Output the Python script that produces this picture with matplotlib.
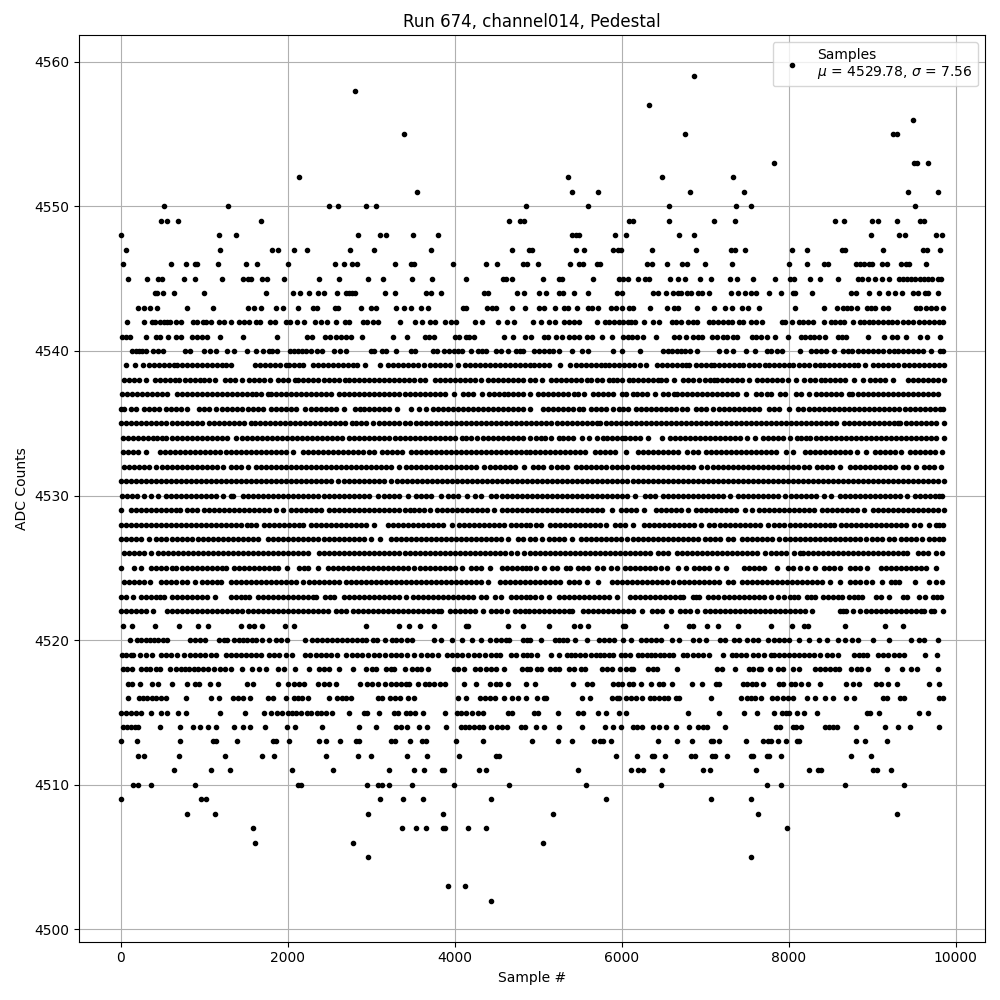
import matplotlib
matplotlib.use("Agg")
import matplotlib.pyplot as plt

# sample numbers, one list per ADC level
adc_4502 = [4441]
adc_4503 = [3926, 4130]
adc_4505 = [2968, 7545]
adc_4506 = [1615, 2789, 5054]
adc_4507 = [1591, 3375, 3543, 3663, 3855, 3887, 4165, 4381, 7976]
adc_4508 = [800, 1136, 2968, 3863, 5174, 7629, 9293]
adc_4509 = [10, 964, 1020, 3112, 3387, 3627, 4441, 5808, 7066, 7545]
adc_4510 = [154, 214, 369, 896, 2130, 2158, 2956, 3088, 3128, 3219, 3495, 3998, 4657, 5569, 6467, 7737, 7904, 8671, 9377]
adc_4511 = [645, 1088, 1315, 2058, 2549, 3219, 3519, 3639, 3843, 3875, 4286, 4370, 5473, 6108, 6192, 6251, 6479, 6970, 7054, 7605,
            8240, 8347, 8387, 9006, 9054, 9222]
adc_4512 = [214, 285, 705, 1255, 1699, 1842, 2465, 2848, 3004, 3435, 3675, 4058, 4501, 4533, 5928, 6180, 6359, 6391, 6515, 6826,
            6882, 7078, 7122, 7257, 7545, 7577, 7737, 7760, 7904, 8743, 8982]
adc_4513 = [10, 202, 717, 1112, 1148, 1399, 1830, 1862, 2022, 2381, 2465, 2633, 2824, 2856, 3243, 3291, 3471, 3615, 3663, 4022,
            4334, 4922, 5234, 5401, 5665, 5737, 5781, 5868, 6431, 6659, 6838, 7066, 7098, 7162, 7485, 7689, 7749, 7788, 7868,
            7964, 8096, 8128, 8802, 8910, 9174]
adc_4514 = [30, 82, 130, 174, 210, 477, 717, 872, 956, 1052, 1140, 1363, 1471, 1555, 1731, 1998, 2094, 2409, 2860, 3064, 3303,
            3355, 3435, 3579, 3675, 3891, 4074, 4122, 4174, 4234, 4286, 4334, 4433, 4513, 4573, 4633, 4793, 4841, 4970, 5066,
            5246, 5521, 5796, 5892, 5996, 6132, 6180, 6243, 6371, 6443, 6527, 6655, 6810, 6910, 6970, 7018, 7241, 7844, 7896,
            8048, 8088, 8144, 8439, 8487, 8535, 8575, 8802, 9150, 9305, 9449, 9796]
adc_4515 = [10, 62, 130, 190, 242, 369, 489, 561, 693, 780, 1196, 1491, 1723, 1802, 1878, 1938, 2006, 2058, 2106, 2166, 2238,
            2277, 2357, 2397, 2457, 2537, 2741, 2916, 2956, 3100, 3279, 3327, 3415, 3467, 3531, 3623, 3879, 4034, 4074, 4134,
            4214, 4274, 4334, 4645, 4693, 4946, 4994, 5234, 5473, 5533, 5721, 5808, 5964, 6048, 6790, 7162, 7461, 7617, 7820,
            7916, 7968, 8008, 8096, 8180, 8335, 8934, 8974, 9078, 9557, 9665]
adc_4516 = [94, 222, 269, 321, 373, 429, 481, 541, 788, 1088, 1184, 1351, 1407, 1467, 1555, 1770, 1830, 1986, 2078, 2130, 2178,
            2249, 2501, 2597, 2657, 2705, 2765, 3088, 3136, 3227, 3287, 3351, 3447, 3515, 4046, 4134, 4298, 4365, 4421, 4481,
            4597, 4685, 4753, 4860, 4982, 5066, 5094, 5521, 5617, 5880, 5940, 5972, 6052, 6112, 6172, 6243, 6339, 6391, 6443,
            6503, 6551, 6651, 6691, 7066, 7425, 7497, 7545, 7597, 7669, 7796, 7856, 7928, 7988, 8048, 8216, 8315, 8431, 8527,
            8683, 8778, 9126, 9174, 9333, 9385, 9796, 9844]
adc_4517 = [94, 142, 238, 381, 445, 621, 800, 892, 940, 1076, 1172, 1519, 1587, 1890, 2010, 2078, 2138, 2202, 2369, 2437, 2497,
            2577, 2872, 2956, 3016, 3088, 3168, 3239, 3295, 3355, 3415, 3455, 3567, 3647, 3695, 3755, 3823, 3883, 4118, 4262,
            4421, 4493, 4545, 4645, 4860, 4958, 5413, 5581, 5641, 5900, 5952, 6000, 6084, 6140, 6227, 6347, 6451, 6491, 6599,
            6838, 6958, 7130, 7170, 7449, 7497, 7561, 7609, 7689, 7888, 7936, 8024, 8080, 8144, 8228, 8375, 8691, 8766, 8846,
            9046, 9106, 9186, 9293, 9677, 9796]
adc_4518 = [30, 82, 142, 250, 301, 349, 421, 469, 597, 669, 721, 772, 820, 880, 932, 988, 1052, 1120, 1188, 1251, 1319, 1451,
            1579, 1663, 1747, 1890, 1962, 2094, 2262, 2377, 2437, 2497, 2621, 2785, 2944, 3008, 3064, 3176, 3235, 3275, 3411,
            3495, 3555, 3595, 3687, 3990, 4046, 4114, 4246, 4302, 4373, 4433, 4493, 4593, 4801, 4865, 4906, 4982, 5038, 5142,
            5206, 5253, 5373, 5425, 5513, 5565, 5764, 5824, 5880, 5980, 6052, 6112, 6140, 6311, 6371, 6423, 6659, 7138, 7202,
            7353, 7521, 7577, 7641, 7669, 7772, 7868, 7928, 8048, 8120, 8319, 8375, 8439, 8495, 8559, 8607, 8743, 8814, 8866,
            8946, 9174, 9353, 9465, 9533, 9784]
adc_4519 = [14, 62, 122, 150, 238, 301, 373, 481, 541, 601, 681, 760, 828, 892, 952, 1012, 1080, 1148, 1267, 1319, 1379, 1439,
            1499, 1559, 1619, 1679, 1778, 1838, 1898, 1978, 2050, 2209, 2265, 2337, 2397, 2457, 2517, 2597, 2697, 2777, 2836,
            2896, 2968, 3036, 3096, 3168, 3239, 3295, 3355, 3435, 3515, 3595, 3675, 3735, 3807, 3914, 3974, 4034, 4094, 4165,
            4234, 4294, 4365, 4433, 4493, 4545, 4673, 4733, 4813, 4865, 4914, 4982, 5154, 5246, 5341, 5393, 5445, 5501, 5565,
            5633, 5693, 5741, 5792, 5852, 5900, 5992, 6044, 6100, 6192, 6243, 6299, 6351, 6403, 6459, 6511, 6571, 6619, 6739,
            6786, 6858, 6910, 6970, 7050, 7210, 7317, 7369, 7429, 7489, 7577, 7629, 7709, 7788, 7828, 7888, 7948, 8008, 8068,
            8128, 8188, 8248, 8307, 8375, 8455, 8519, 8587, 8778, 8838, 8894, 8934, 9066, 9126, 9186, 9265, 9325, 9385, 9637,
            9772]
adc_4520 = [110, 202, 250, 301, 349, 401, 453, 509, 561, 836, 896, 956, 1016, 1180, 1240, 1279, 1359, 1419, 1467, 1519, 1571,
            1627, 1699, 1778, 1858, 1918, 1998, 2209, 2297, 2357, 2417, 2477, 2537, 2597, 2657, 2717, 2777, 2836, 2896, 2944,
            3024, 3076, 3168, 3247, 3295, 3355, 3435, 3487, 3755, 3835, 3974, 4086, 4206, 4314, 4421, 4493, 4553, 4613, 4653,
            4820, 4872, 4902, 5038, 5206, 5253, 5293, 5341, 5437, 5581, 5733, 5792, 5852, 5912, 6012, 6112, 6231, 6291, 6351,
            6411, 6471, 6603, 6683, 6850, 6930, 7010, 7178, 7237, 7349, 7409, 7505, 7577, 7637, 7749, 7828, 7888, 7940, 8008,
            8128, 8240, 8367, 8455, 8587, 8675, 8759, 8826, 9006, 9198, 9465, 9557, 9617, 9784]
adc_4521 = [30, 142, 417, 705, 932, 1052, 1447, 1539, 1599, 1691, 1974, 2074, 2944, 3339, 3459, 3591, 3759, 4134, 4162, 4641,
            4813, 5126, 5425, 5497, 5593, 6012, 6044, 6527, 6802, 6858, 7018, 7150, 7389, 7784, 8036, 8188, 8228, 8671, 9150,
            9365]
adc_4522 = [0, 60, 120, 180, 240, 300, 390, 560, 620, 680, 740, 800, 860, 920, 980, 1040, 1100, 1160, 1220, 1280, 1340, 1400,
            1460, 1520, 1580, 1640, 1700, 1760, 1820, 1880, 1940, 2000, 2060, 2120, 2180, 2240, 2300, 2360, 2420, 2480, 2580,
            2640, 2700, 2780, 2840, 2900, 2960, 3020, 3080, 3140, 3200, 3260, 3320, 3380, 3440, 3500, 3560, 3620, 3680, 3740,
            3800, 3840, 3950, 4010, 4070, 4130, 4190, 4250, 4340, 4430, 4490, 4560, 4630, 4720, 4780, 4840, 4894, 4950, 5010,
            5070, 5130, 5190, 5250, 5310, 5370, 5410, 5540, 5600, 5660, 5720, 5780, 5840, 5900, 5960, 6020, 6080, 6140, 6240,
            6360, 6420, 6480, 6590, 6700, 6760, 6820, 6900, 7000, 7060, 7120, 7180, 7240, 7300, 7360, 7420, 7480, 7540, 7600,
            7660, 7720, 7780, 7840, 7900, 7960, 8020, 8080, 8140, 8200, 8280, 8610, 8650, 8690, 8766, 8860, 8920, 8980, 9040,
            9100, 9160, 9220, 9280, 9340, 9400, 9460, 9520, 9580, 9620, 9705, 9740, 9844]
adc_4523 = [10, 70, 150, 240, 300, 360, 420, 470, 520, 620, 680, 740, 800, 860, 920, 980, 1030, 1135, 1320, 1380, 1440, 1490,
            1540, 1640, 1700, 1760, 1820, 1880, 1940, 2000, 2060, 2120, 2180, 2240, 2300, 2340, 2450, 2505, 2560, 2670, 2730,
            2790, 2850, 2910, 2970, 3030, 3090, 3150, 3210, 3270, 3330, 3420, 3500, 3560, 3620, 3680, 3740, 3800, 3860, 3920,
            3980, 4040, 4100, 4160, 4220, 4310, 4373, 4480, 4550, 4680, 4740, 4800, 4860, 4900, 4960, 5030, 5126, 5250, 5310,
            5370, 5430, 5490, 5550, 5610, 5670, 5730, 5790, 5850, 5950, 6100, 6160, 6220, 6280, 6340, 6400, 6460, 6520, 6580,
            6640, 6700, 6740, 6850, 6890, 6930, 7030, 7090, 7150, 7220, 7290, 7350, 7410, 7470, 7530, 7590, 7650, 7710, 7790,
            7868, 7950, 8010, 8060, 8110, 8220, 8270, 8320, 8410, 8470, 8530, 8590, 8640, 8720, 8780, 8830, 8880, 9040, 9100,
            9198, 9370, 9420, 9565, 9630, 9730, 9780, 9830]
adc_4524 = [40, 100, 160, 220, 280, 350, 480, 540, 600, 660, 740, 800, 890, 970, 1030, 1090, 1150, 1200, 1320, 1380, 1440, 1500,
            1560, 1620, 1680, 1740, 1800, 1860, 1920, 1980, 2040, 2100, 2180, 2260, 2320, 2380, 2440, 2500, 2560, 2620, 2700,
            2760, 2820, 2880, 2940, 3000, 3060, 3120, 3180, 3240, 3300, 3360, 3420, 3480, 3540, 3600, 3660, 3720, 3780, 3840,
            3900, 3960, 4020, 4080, 4140, 4200, 4260, 4320, 4400, 4540, 4600, 4660, 4720, 4780, 4840, 4900, 4960, 5020, 5080,
            5140, 5200, 5260, 5370, 5430, 5490, 5590, 5713, 5885, 5945, 6005, 6065, 6125, 6185, 6245, 6305, 6365, 6425, 6485,
            6545, 6620, 6690, 6750, 6810, 6870, 6930, 6990, 7050, 7110, 7170, 7269, 7329, 7440, 7500, 7560, 7620, 7680, 7740,
            7800, 7860, 7920, 7980, 8040, 8100, 8160, 8220, 8280, 8340, 8400, 8500, 8615, 8740, 8800, 8860, 8920, 9000, 9114,
            9220, 9270, 9320, 9513, 9685, 9770, 9836]
adc_4525 = [0, 160, 240, 370, 430, 490, 550, 610, 660, 730, 790, 850, 910, 970, 1030, 1090, 1150, 1210, 1260, 1360, 1420, 1480,
            1540, 1600, 1660, 1720, 1780, 1840, 1890, 1990, 2140, 2200, 2250, 2360, 2480, 2540, 2600, 2660, 2720, 2780, 2840,
            2900, 2960, 3020, 3080, 3140, 3200, 3260, 3320, 3380, 3440, 3510, 3590, 3640, 3710, 3770, 3830, 3890, 3950, 4010,
            4090, 4200, 4260, 4320, 4420, 4570, 4630, 4690, 4750, 4810, 4860, 4900, 4980, 5066, 5170, 5230, 5330, 5385, 5480,
            5540, 5600, 5700, 5780, 5872, 5940, 6040, 6100, 6160, 6220, 6280, 6340, 6400, 6470, 6540, 6670, 6770, 6870, 6930,
            6990, 7050, 7140, 7249, 7465, 7525, 7585, 7645, 7700, 7856, 7990, 8050, 8140, 8220, 8310, 8420, 8480, 8540, 8610,
            8730, 8790, 8850, 8940, 9110, 9170, 9230, 9290, 9350, 9410, 9470, 9530, 9590, 9650, 9760]
adc_4526 = [40, 100, 160, 220, 280, 360, 450, 510, 570, 630, 690, 750, 810, 870, 930, 990, 1050, 1110, 1170, 1230, 1290, 1350,
            1410, 1470, 1530, 1590, 1650, 1710, 1770, 1830, 1890, 1950, 2010, 2070, 2130, 2190, 2250, 2380, 2440, 2500, 2560,
            2620, 2680, 2740, 2800, 2860, 2920, 2980, 3040, 3100, 3160, 3220, 3280, 3340, 3400, 3460, 3520, 3580, 3640, 3700,
            3760, 3820, 3880, 3940, 4000, 4060, 4120, 4180, 4240, 4300, 4360, 4420, 4480, 4540, 4600, 4670, 4750, 4830, 4900,
            4960, 5020, 5080, 5140, 5200, 5260, 5320, 5380, 5440, 5500, 5560, 5620, 5680, 5740, 5800, 5860, 5920, 5980, 6040,
            6100, 6160, 6220, 6280, 6340, 6430, 6490, 6550, 6660, 6720, 6780, 6840, 6900, 6960, 7020, 7080, 7140, 7200, 7260,
            7320, 7380, 7440, 7500, 7560, 7620, 7720, 7790, 7850, 7910, 7970, 8060, 8130, 8170, 8228, 8295, 8350, 8410, 8470,
            8530, 8590, 8650, 8710, 8770, 8830, 8890, 8950, 9010, 9070, 9130, 9190, 9250, 9310, 9370, 9420, 9550, 9610, 9670,
            9770, 9836]
adc_4527 = [0, 60, 120, 180, 240, 340, 430, 490, 550, 610, 670, 730, 790, 850, 930, 990, 1050, 1110, 1170, 1230, 1290, 1350,
            1410, 1470, 1530, 1590, 1640, 1770, 1830, 1890, 1950, 2010, 2070, 2130, 2190, 2250, 2310, 2370, 2430, 2490, 2550,
            2610, 2670, 2730, 2790, 2850, 2910, 3000, 3110, 3240, 3300, 3360, 3420, 3480, 3540, 3600, 3660, 3720, 3780, 3840,
            3900, 3960, 4020, 4080, 4140, 4200, 4260, 4320, 4380, 4440, 4500, 4560, 4640, 4760, 4820, 4900, 4960, 5050, 5130,
            5190, 5250, 5310, 5400, 5510, 5570, 5630, 5690, 5750, 5810, 5870, 5930, 5990, 6070, 6130, 6190, 6250, 6310, 6370,
            6430, 6490, 6550, 6610, 6670, 6730, 6790, 6850, 6910, 7000, 7060, 7120, 7182, 7269, 7337, 7440, 7500, 7560, 7620,
            7680, 7740, 7800, 7880, 7960, 8020, 8080, 8140, 8200, 8260, 8320, 8380, 8440, 8500, 8560, 8620, 8680, 8740, 8800,
            8860, 8920, 9000, 9060, 9120, 9200, 9260, 9340, 9410, 9470, 9530, 9600, 9680, 9740, 9800, 9850]
adc_4528 = [0, 60, 120, 180, 240, 300, 360, 420, 480, 540, 600, 660, 720, 780, 840, 900, 960, 1020, 1080, 1140, 1200, 1260, 1320,
            1380, 1440, 1510, 1560, 1620, 1720, 1780, 1840, 1900, 1960, 2020, 2080, 2140, 2190, 2280, 2340, 2400, 2460, 2520,
            2580, 2640, 2700, 2760, 2820, 2880, 2940, 3030, 3200, 3260, 3320, 3380, 3440, 3500, 3560, 3620, 3680, 3740, 3800,
            3860, 3970, 4050, 4110, 4170, 4230, 4290, 4350, 4410, 4470, 4530, 4590, 4680, 4740, 4800, 4860, 4900, 4970, 5040,
            5140, 5200, 5260, 5320, 5380, 5440, 5500, 5560, 5620, 5680, 5740, 5810, 5920, 5980, 6040, 6140, 6270, 6330, 6390,
            6450, 6510, 6570, 6630, 6690, 6750, 6810, 6870, 6950, 7050, 7110, 7180, 7240, 7300, 7360, 7420, 7480, 7540, 7600,
            7660, 7750, 7830, 7890, 7950, 8010, 8070, 8130, 8190, 8250, 8310, 8370, 8430, 8490, 8540, 8630, 8690, 8750, 8810,
            8870, 8930, 8990, 9050, 9110, 9170, 9230, 9290, 9350, 9410, 9500, 9570, 9680, 9760, 9805, 9850]
adc_4529 = [0, 120, 180, 240, 300, 360, 420, 480, 540, 600, 660, 710, 790, 850, 910, 1000, 1060, 1120, 1180, 1240, 1300, 1360,
            1420, 1480, 1540, 1600, 1660, 1720, 1780, 1860, 1950, 2040, 2100, 2160, 2220, 2280, 2340, 2400, 2500, 2560, 2620,
            2680, 2740, 2800, 2860, 2920, 2980, 3040, 3100, 3160, 3220, 3280, 3340, 3400, 3460, 3510, 3570, 3630, 3700, 3790,
            3850, 3910, 3970, 4030, 4090, 4150, 4210, 4270, 4330, 4390, 4470, 4570, 4630, 4690, 4750, 4810, 4870, 4930, 4990,
            5050, 5110, 5170, 5230, 5290, 5350, 5410, 5470, 5530, 5590, 5650, 5710, 5770, 5880, 5990, 6050, 6110, 6170, 6270,
            6410, 6470, 6530, 6590, 6650, 6710, 6790, 6890, 6950, 7010, 7070, 7130, 7190, 7250, 7310, 7370, 7480, 7561, 7640,
            7700, 7760, 7820, 7880, 7940, 8000, 8060, 8120, 8180, 8240, 8300, 8400, 8460, 8520, 8580, 8640, 8700, 8760, 8820,
            8900, 9010, 9070, 9130, 9190, 9250, 9310, 9370, 9430, 9490, 9550, 9610, 9670, 9730, 9790, 9856]
adc_4530 = [20, 80, 140, 200, 280, 360, 450, 540, 600, 660, 720, 780, 840, 900, 960, 1020, 1080, 1140, 1230, 1320, 1350, 1470,
            1530, 1590, 1650, 1710, 1770, 1830, 1890, 1950, 2010, 2070, 2130, 2190, 2250, 2310, 2370, 2430, 2490, 2550, 2610,
            2670, 2730, 2790, 2850, 2910, 2970, 3080, 3150, 3210, 3270, 3330, 3440, 3540, 3600, 3660, 3720, 3840, 3920, 3980,
            4040, 4150, 4240, 4310, 4430, 4500, 4570, 4630, 4690, 4750, 4810, 4870, 4930, 4990, 5050, 5110, 5170, 5230, 5290,
            5350, 5410, 5470, 5530, 5590, 5650, 5710, 5770, 5830, 5890, 5950, 6010, 6070, 6160, 6280, 6340, 6400, 6490, 6550,
            6610, 6670, 6730, 6790, 6850, 6910, 6970, 7030, 7090, 7150, 7210, 7300, 7390, 7450, 7510, 7570, 7630, 7690, 7750,
            7810, 7870, 7960, 8030, 8090, 8150, 8210, 8270, 8330, 8420, 8507, 8610, 8670, 8730, 8790, 8850, 8910, 8970, 9030,
            9090, 9150, 9210, 9270, 9330, 9420, 9510, 9570, 9630, 9690, 9750, 9800, 9840]
adc_4531 = [0, 60, 120, 180, 240, 300, 360, 420, 480, 540, 600, 660, 720, 780, 840, 900, 960, 1020, 1080, 1140, 1200, 1260, 1320,
            1380, 1440, 1500, 1560, 1620, 1680, 1740, 1800, 1860, 1920, 1980, 2040, 2100, 2160, 2220, 2280, 2340, 2400, 2460,
            2520, 2600, 2680, 2740, 2800, 2860, 2920, 2980, 3040, 3100, 3160, 3240, 3310, 3370, 3430, 3490, 3550, 3610, 3670,
            3730, 3790, 3850, 3910, 3970, 4030, 4090, 4150, 4210, 4270, 4330, 4390, 4450, 4510, 4570, 4630, 4690, 4750, 4810,
            4870, 4930, 4990, 5050, 5110, 5170, 5230, 5290, 5350, 5410, 5470, 5530, 5590, 5650, 5710, 5770, 5830, 5890, 5950,
            6010, 6070, 6130, 6190, 6250, 6310, 6370, 6430, 6490, 6550, 6610, 6670, 6730, 6790, 6850, 6910, 6970, 7030, 7090,
            7150, 7210, 7270, 7330, 7390, 7450, 7510, 7570, 7630, 7690, 7750, 7810, 7870, 7930, 7990, 8050, 8110, 8170, 8230,
            8290, 8350, 8410, 8470, 8530, 8590, 8650, 8710, 8770, 8830, 8890, 8950, 9010, 9070, 9130, 9190, 9250, 9310, 9370,
            9430, 9490, 9550, 9610, 9670, 9730, 9790, 9858]
adc_4532 = [40, 100, 160, 220, 280, 340, 420, 500, 560, 620, 680, 740, 800, 860, 920, 980, 1040, 1100, 1160, 1230, 1320, 1380,
            1440, 1530, 1620, 1680, 1740, 1800, 1860, 1920, 1980, 2040, 2100, 2160, 2220, 2280, 2340, 2400, 2460, 2520, 2580,
            2640, 2700, 2760, 2820, 2880, 2940, 3000, 3060, 3120, 3180, 3240, 3340, 3420, 3480, 3540, 3600, 3660, 3720, 3780,
            3840, 3900, 3960, 4020, 4080, 4140, 4200, 4260, 4350, 4420, 4480, 4540, 4600, 4660, 4720, 4830, 4940, 5000, 5060,
            5150, 5230, 5285, 5340, 5450, 5510, 5570, 5630, 5690, 5750, 5810, 5890, 5950, 6010, 6070, 6130, 6190, 6250, 6310,
            6370, 6430, 6490, 6550, 6610, 6670, 6730, 6790, 6850, 6950, 7022, 7095, 7155, 7215, 7275, 7335, 7395, 7455, 7515,
            7575, 7635, 7695, 7755, 7815, 7875, 7935, 7995, 8055, 8115, 8180, 8248, 8340, 8400, 8460, 8520, 8620, 8730, 8790,
            8850, 8910, 8970, 9030, 9090, 9150, 9210, 9270, 9370, 9430, 9530, 9620, 9680, 9740, 9830]
adc_4533 = [25, 85, 145, 205, 300, 470, 530, 590, 650, 710, 770, 830, 890, 950, 1010, 1070, 1130, 1190, 1260, 1320, 1380, 1440,
            1500, 1560, 1620, 1680, 1740, 1800, 1860, 1920, 1980, 2070, 2180, 2240, 2300, 2360, 2420, 2480, 2540, 2600, 2660,
            2720, 2780, 2840, 2900, 2970, 3030, 3130, 3190, 3250, 3310, 3370, 3480, 3535, 3600, 3660, 3720, 3780, 3840, 3900,
            3960, 4020, 4080, 4140, 4200, 4260, 4320, 4380, 4440, 4500, 4560, 4620, 4680, 4740, 4800, 4860, 4900, 4960, 5020,
            5080, 5140, 5200, 5260, 5320, 5380, 5440, 5500, 5560, 5680, 5740, 5800, 5860, 5920, 6050, 6200, 6260, 6320, 6380,
            6440, 6500, 6560, 6620, 6680, 6780, 6858, 6910, 7010, 7070, 7130, 7190, 7250, 7310, 7370, 7430, 7490, 7550, 7610,
            7670, 7730, 7790, 7850, 7965, 8048, 8190, 8250, 8310, 8370, 8430, 8490, 8550, 8610, 8670, 8730, 8820, 8926, 9030,
            9090, 9150, 9210, 9270, 9345, 9449, 9510, 9570, 9630, 9690, 9750, 9840]
adc_4534 = [30, 90, 150, 210, 270, 330, 390, 440, 500, 550, 610, 670, 730, 790, 850, 910, 980, 1030, 1090, 1150, 1210, 1270, 1380,
            1450, 1510, 1570, 1630, 1690, 1750, 1810, 1870, 1930, 1990, 2050, 2110, 2170, 2230, 2290, 2350, 2410, 2470, 2530,
            2590, 2650, 2740, 2790, 2850, 2910, 2970, 3030, 3090, 3150, 3210, 3290, 3350, 3400, 3460, 3520, 3580, 3640, 3700,
            3760, 3820, 3880, 3940, 4000, 4090, 4140, 4200, 4270, 4340, 4400, 4460, 4520, 4580, 4640, 4700, 4760, 4820, 4900,
            4970, 5030, 5085, 5154, 5250, 5300, 5360, 5420, 5520, 5613, 5710, 5772, 5830, 5890, 5950, 6010, 6040, 6100, 6160,
            6220, 6310, 6479, 6575, 6635, 6695, 6755, 6815, 6875, 6935, 6995, 7055, 7115, 7175, 7235, 7295, 7355, 7415, 7500,
            7593, 7689, 7750, 7810, 7870, 7930, 8020, 8096, 8148, 8205, 8260, 8327, 8390, 8450, 8510, 8570, 8630, 8690, 8750,
            8810, 8870, 8930, 8990, 9050, 9110, 9170, 9230, 9290, 9350, 9410, 9470, 9530, 9590, 9650, 9710, 9770, 9856]
adc_4535 = [10, 70, 130, 190, 250, 310, 370, 430, 490, 550, 610, 670, 730, 790, 850, 910, 970, 1060, 1120, 1180, 1240, 1300, 1360,
            1420, 1480, 1560, 1610, 1670, 1730, 1790, 1850, 1910, 1970, 2030, 2090, 2150, 2210, 2270, 2330, 2390, 2450, 2510,
            2570, 2630, 2690, 2770, 2820, 2880, 2940, 3020, 3100, 3160, 3220, 3280, 3340, 3400, 3460, 3540, 3600, 3660, 3720,
            3780, 3840, 3900, 3960, 4020, 4080, 4140, 4200, 4260, 4320, 4380, 4440, 4500, 4560, 4620, 4680, 4740, 4800, 4860,
            4920, 4980, 5040, 5100, 5160, 5220, 5280, 5340, 5400, 5460, 5520, 5580, 5640, 5710, 5745, 5812, 5870, 5930, 5990,
            6050, 6110, 6170, 6230, 6290, 6350, 6410, 6470, 6530, 6590, 6650, 6710, 6770, 6830, 6890, 6950, 7010, 7070, 7130,
            7190, 7250, 7310, 7370, 7430, 7490, 7550, 7610, 7670, 7730, 7790, 7850, 7910, 7970, 8030, 8090, 8150, 8210, 8270,
            8330, 8390, 8450, 8510, 8570, 8667, 8719, 8780, 8840, 8900, 8960, 9020, 9080, 9140, 9200, 9260, 9305, 9333, 9400,
            9460, 9520, 9580, 9640, 9700, 9760, 9856]
adc_4536 = [0, 40, 120, 180, 282, 340, 400, 460, 540, 600, 660, 720, 790, 940, 1000, 1060, 1140, 1220, 1280, 1340, 1400, 1460,
            1520, 1580, 1640, 1700, 1800, 1860, 1920, 1980, 2040, 2100, 2210, 2280, 2340, 2400, 2460, 2520, 2580, 2680, 2810,
            2870, 2920, 2980, 3040, 3100, 3160, 3220, 3310, 3480, 3570, 3660, 3740, 3800, 3860, 3920, 3980, 4040, 4100, 4160,
            4220, 4280, 4340, 4400, 4460, 4520, 4580, 4640, 4700, 4760, 4820, 4900, 5062, 5120, 5180, 5240, 5300, 5360, 5413,
            5493, 5541, 5633, 5690, 5750, 5810, 5892, 5964, 6020, 6080, 6172, 6232, 6290, 6350, 6410, 6470, 6530, 6590, 6650,
            6723, 6782, 6890, 6950, 7010, 7098, 7170, 7230, 7290, 7350, 7410, 7470, 7530, 7590, 7649, 7761, 7820, 7880, 8000,
            8108, 8168, 8247, 8307, 8367, 8427, 8487, 8547, 8607, 8667, 8727, 8787, 8847, 8907, 8967, 9027, 9087, 9147, 9207,
            9267, 9327, 9387, 9447, 9507, 9567, 9627, 9687, 9747, 9807, 9844]
adc_4537 = [20, 80, 140, 200, 260, 320, 380, 440, 500, 560, 670, 730, 790, 850, 910, 970, 1030, 1090, 1150, 1210, 1270, 1330,
            1390, 1450, 1510, 1570, 1620, 1680, 1770, 1800, 1860, 1920, 1980, 2040, 2100, 2160, 2220, 2280, 2340, 2400, 2460,
            2520, 2620, 2680, 2740, 2800, 2860, 2920, 2980, 3040, 3100, 3160, 3220, 3280, 3340, 3400, 3460, 3520, 3580, 3640,
            3700, 3760, 3820, 3880, 3990, 4100, 4160, 4220, 4330, 4410, 4470, 4530, 4590, 4640, 4700, 4760, 4820, 4900, 5000,
            5060, 5120, 5180, 5240, 5300, 5360, 5430, 5473, 5553, 5660, 5720, 5780, 5840, 5900, 6010, 6052, 6132, 6180, 6240,
            6300, 6403, 6491, 6550, 6631, 6659, 6720, 6780, 6840, 6900, 6960, 7020, 7080, 7140, 7200, 7260, 7320, 7380, 7490,
            7610, 7670, 7737, 7788, 7896, 7960, 8088, 8150, 8247, 8327, 8387, 8447, 8507, 8567, 8627, 8726, 8758, 8826, 8886,
            8946, 9006, 9066, 9126, 9186, 9246, 9306, 9366, 9426, 9486, 9546, 9606, 9666, 9726, 9785]
adc_4538 = [40, 100, 160, 220, 302, 410, 470, 530, 590, 650, 705, 770, 830, 890, 950, 1000, 1060, 1130, 1250, 1310, 1370, 1450,
            1540, 1600, 1660, 1720, 1790, 1890, 1950, 2010, 2090, 2130, 2190, 2250, 2310, 2370, 2430, 2490, 2550, 2610, 2690,
            2730, 2790, 2850, 2910, 2970, 3030, 3090, 3150, 3210, 3270, 3330, 3390, 3450, 3510, 3580, 3650, 3770, 3830, 3890,
            3950, 4010, 4070, 4130, 4190, 4250, 4320, 4400, 4460, 4520, 4580, 4640, 4700, 4760, 4820, 4900, 4960, 5050, 5155,
            5215, 5275, 5335, 5395, 5455, 5515, 5590, 5633, 5700, 5760, 5852, 5892, 5950, 6010, 6092, 6132, 6190, 6250, 6310,
            6370, 6431, 6471, 6530, 6631, 6730, 6790, 6850, 6930, 7000, 7060, 7110, 7138, 7200, 7260, 7320, 7380, 7440, 7530,
            7625, 7685, 7745, 7805, 7865, 7925, 7988, 8088, 8188, 8250, 8310, 8387, 8439, 8500, 8560, 8620, 8680, 8786, 8886,
            8974, 9034, 9094, 9154, 9245, 9425, 9485, 9545, 9605, 9665, 9725, 9785, 9856]
adc_4539 = [62, 170, 274, 335, 395, 455, 515, 575, 635, 681, 733, 790, 850, 910, 970, 1030, 1093, 1149, 1210, 1265, 1320, 1606,
            1665, 1725, 1785, 1845, 1905, 1980, 2022, 2082, 2135, 2190, 2301, 2360, 2420, 2480, 2540, 2600, 2660, 2720, 2780,
            2829, 2932, 3108, 3200, 3260, 3320, 3380, 3440, 3500, 3560, 3637, 3711, 3770, 3830, 3890, 3950, 4038, 4126, 4185,
            4245, 4305, 4365, 4425, 4485, 4545, 4605, 4665, 4725, 4785, 4845, 4900, 4950, 5010, 5070, 5126, 5265, 5385, 5453,
            5510, 5570, 5630, 5690, 5750, 5800, 5852, 5912, 5970, 6030, 6090, 6152, 6220, 6291, 6419, 6480, 6540, 6600, 6660,
            6720, 6770, 6810, 6890, 6950, 7010, 7070, 7110, 7170, 7230, 7290, 7350, 7410, 7453, 7525, 7585, 7645, 7713, 7765,
            7825, 7885, 7945, 8005, 8052, 8120, 8188, 8248, 8310, 8371, 8419, 8480, 8540, 8600, 8660, 8720, 8780, 8826, 8910,
            9006, 9066, 9126, 9186, 9246, 9306, 9385, 9445, 9505, 9565, 9625, 9685, 9745, 9805, 9856]
adc_4540 = [142, 182, 222, 262, 301, 393, 453, 509, 772, 828, 1004, 1068, 1140, 1279, 1359, 1511, 1627, 1711, 1778, 1818, 1878,
            2026, 2078, 2126, 2170, 2218, 2285, 2357, 2409, 2557, 2629, 2705, 2996, 3036, 3136, 3184, 3303, 3475, 3527, 3743,
            3795, 3875, 3927, 3994, 4046, 4094, 4202, 4274, 4322, 4373, 4493, 4553, 4645, 4733, 4781, 4820, 4954, 5014, 5066,
            5126, 5174, 5246, 5401, 5521, 5593, 5892, 6000, 6216, 6499, 6551, 6603, 6659, 6711, 6755, 6814, 6898, 7170, 7249,
            7329, 7485, 7593, 7737, 7788, 7856, 7916, 8132, 8267, 8327, 8387, 8447, 8547, 8647, 8707, 8759, 8826, 8886, 8946,
            9006, 9066, 9126, 9198, 9265, 9305, 9365, 9425, 9485, 9545, 9605, 9705, 9812, 9852]
adc_4541 = [22, 62, 110, 309, 421, 477, 569, 669, 729, 860, 920, 980, 1040, 1196, 1471, 1878, 2238, 2297, 2453, 2513, 2585, 2645,
            2705, 2765, 2896, 3267, 3435, 3651, 3699, 3759, 4010, 4058, 4134, 4178, 4238, 4597, 4705, 4848, 4914, 5066, 5114,
            5214, 5281, 5365, 5433, 5493, 5581, 5645, 5760, 5880, 6020, 6072, 6124, 6180, 6251, 6415, 6623, 6691, 6770, 6850,
            6910, 6962, 7082, 7138, 7217, 7257, 7329, 7377, 7561, 7609, 7669, 7737, 7832, 7988, 8148, 8200, 8256, 8307, 8367,
            8439, 8587, 8639, 8687, 8946, 9138, 9238, 9293, 9405, 9573, 9653, 9812]
adc_4542 = [82, 285, 381, 413, 477, 525, 561, 597, 669, 729, 872, 920, 992, 1028, 1088, 1184, 1240, 1327, 1423, 1483, 1543, 1627,
            1675, 1795, 1854, 1986, 2034, 2118, 2202, 2333, 2405, 2477, 2585, 2693, 2741, 2908, 2956, 3028, 3088, 3351, 3531,
            3615, 3711, 3771, 3879, 3951, 4022, 4250, 4322, 4525, 4633, 4717, 4942, 5034, 5134, 5206, 5305, 5373, 5433, 5493,
            5701, 5796, 5852, 5912, 5964, 6020, 6072, 6112, 6164, 6263, 6379, 6451, 6599, 6651, 6711, 6790, 6850, 6902, 7042,
            7098, 7150, 7210, 7269, 7321, 7401, 7457, 7553, 7609, 7677, 7916, 7960, 8044, 8120, 8168, 8228, 8295, 8419, 8507,
            8559, 8615, 8667, 8766, 8854, 8906, 8958, 9014, 9066, 9126, 9186, 9238, 9293, 9365, 9425, 9485, 9565, 9625, 9685,
            9745, 9796, 9844]
adc_4543 = [214, 285, 357, 441, 800, 1112, 1531, 1603, 1687, 1866, 1950, 2130, 2309, 2353, 2573, 2609, 2884, 3004, 3064, 3303,
            3399, 3483, 3603, 3687, 4098, 4134, 4393, 4453, 4501, 4693, 4848, 5006, 5066, 5198, 5305, 5361, 5461, 5593, 5645,
            5721, 5876, 5932, 6000, 6092, 6140, 6335, 6539, 6623, 6671, 6898, 7102, 7233, 7317, 7437, 7509, 7641, 8072, 8419,
            8575, 8647, 8695, 8747, 8814, 8934, 8986, 9030, 9134, 9186, 9525, 9573, 9645, 9705, 9765, 9844]
adc_4544 = [413, 441, 513, 645, 1004, 1747, 2070, 2154, 2262, 2369, 2441, 2597, 2705, 2741, 2777, 2809, 3172, 3291, 3663, 3723,
            3831, 4357, 4405, 4741, 4836, 5006, 5094, 5246, 5293, 5425, 5593, 5940, 6004, 6371, 6431, 6527, 6611, 6671, 6711,
            6778, 6830, 6910, 6958, 7042, 7305, 7389, 7473, 7553, 7609, 7760, 7904, 8048, 8080, 8275, 8751, 8806, 8958, 9086,
            9186, 9273, 9353, 9485, 9545, 9633, 9673, 9792]
adc_4545 = [94, 321, 453, 493, 764, 896, 1220, 1471, 1531, 1563, 1699, 1751, 1962, 2381, 2621, 2968, 3148, 3495, 3735, 4142, 4585,
            4621, 4693, 5054, 5246, 5281, 5653, 5964, 6020, 6076, 6192, 6275, 6331, 6575, 6671, 6755, 6934, 7066, 7297, 7377,
            7569, 7832, 8012, 8068, 8252, 8371, 8587, 8826, 8878, 8946, 9030, 9114, 9198, 9317, 9365, 9413, 9465, 9517, 9573,
            9625, 9673, 9717, 9788, 9828]
adc_4546 = [34, 609, 788, 888, 920, 1172, 1507, 1639, 2010, 2573, 2681, 2773, 2836, 3291, 3483, 3515, 3986, 4381, 4513, 4820, 4872,
            4994, 5377, 5485, 5533, 5701, 5745, 6299, 6359, 6539, 6719, 6782, 6994, 7317, 8000, 8216, 8419, 8471, 8802, 8850,
            8906, 8966, 8998, 9114, 9174, 9345, 9405, 9445, 9641]
adc_4547 = [70, 1196, 1818, 1890, 2082, 2238, 2753, 3040, 3723, 4693, 4885, 4926, 5449, 5545, 5900, 5952, 5992, 6359, 6886, 7305,
            7353, 7473, 8036, 8216, 8635, 8679, 9126, 9605, 9653, 9808]
adc_4548 = [0, 1184, 1387, 2848, 3112, 3184, 3507, 3807, 5409, 5453, 5485, 5916, 6048, 6683, 6862, 8982, 9317, 9389, 9768, 9840]
adc_4549 = [489, 553, 693, 1687, 4657, 4785, 4833, 6092, 6132, 6563, 7102, 7353, 8551, 8659, 8994, 9066, 9293, 9577, 9625]
adc_4550 = [525, 1291, 2501, 2609, 2944, 3064, 4860, 5593, 6563, 7365, 7545, 9509]
adc_4551 = [3555, 5401, 5713, 6814, 7461, 9425, 9784]
adc_4552 = [2142, 5353, 6479, 7329]
adc_4553 = [7820, 9501, 9533, 9665]
adc_4555 = [3399, 6755, 9253, 9301]
adc_4556 = [9485]
adc_4557 = [6323]
adc_4558 = [2812]
adc_4559 = [6862]

rows = [
    (4502, adc_4502), (4503, adc_4503), (4505, adc_4505), (4506, adc_4506), (4507, adc_4507), (4508, adc_4508),
    (4509, adc_4509), (4510, adc_4510), (4511, adc_4511), (4512, adc_4512), (4513, adc_4513), (4514, adc_4514),
    (4515, adc_4515), (4516, adc_4516), (4517, adc_4517), (4518, adc_4518), (4519, adc_4519), (4520, adc_4520),
    (4521, adc_4521), (4522, adc_4522), (4523, adc_4523), (4524, adc_4524), (4525, adc_4525), (4526, adc_4526),
    (4527, adc_4527), (4528, adc_4528), (4529, adc_4529), (4530, adc_4530), (4531, adc_4531), (4532, adc_4532),
    (4533, adc_4533), (4534, adc_4534), (4535, adc_4535), (4536, adc_4536), (4537, adc_4537), (4538, adc_4538),
    (4539, adc_4539), (4540, adc_4540), (4541, adc_4541), (4542, adc_4542), (4543, adc_4543), (4544, adc_4544),
    (4545, adc_4545), (4546, adc_4546), (4547, adc_4547), (4548, adc_4548), (4549, adc_4549), (4550, adc_4550),
    (4551, adc_4551), (4552, adc_4552), (4553, adc_4553), (4555, adc_4555), (4556, adc_4556), (4557, adc_4557),
    (4558, adc_4558), (4559, adc_4559),
]

x = []
y = []
for level, samples in rows:
    x += samples
    y += [level] * len(samples)

plt.figure(figsize=(10, 10), dpi=100)
plt.plot(x, y, "k.", label="Samples\n$\\mu$ = 4529.78, $\\sigma$ = 7.56")
plt.title("Run 674, channel014, Pedestal")
plt.xlabel("Sample #")
plt.ylabel("ADC Counts")
plt.grid(True)
plt.legend(loc="upper right")
plt.tight_layout()
# the title sits a little higher in the original
plt.subplots_adjust(top=0.965)
plt.savefig("out.png")
